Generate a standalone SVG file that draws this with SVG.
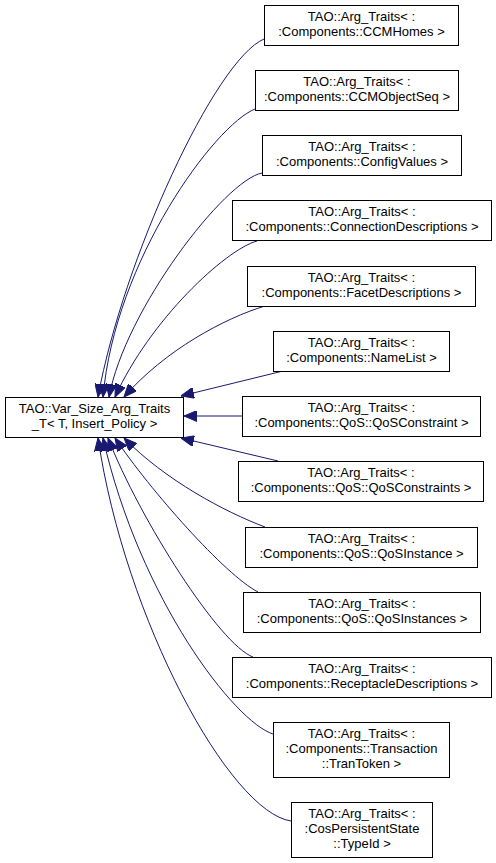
<svg xmlns="http://www.w3.org/2000/svg" width="496" height="863" viewBox="0 0 496 863">
<defs>
<style>
.box{fill:#ffffff;stroke:#000000;stroke-width:1}
.lbl{font-family:"Liberation Sans",Arial,Helvetica,sans-serif;font-size:13px;fill:#000000;text-anchor:middle}
.edge{fill:none;stroke:#191970;stroke-width:1;marker-end:url(#arr)}
</style>
<marker id="arr" markerUnits="userSpaceOnUse" markerWidth="13" markerHeight="11" refX="13" refY="5.5" orient="auto">
<path d="M0,0 L13,5.5 L0,11 z" fill="#191970" stroke="#191970" stroke-width="1"/>
</marker>
</defs>
<rect width="496" height="863" fill="#ffffff"/>
<g id="edges">
<path class="edge" d="M264,39 C215,60 123,260 98,397"/>
<path class="edge" d="M255,109 C215,125 115,260 103,397"/>
<path class="edge" d="M262,173 C225,180 125,310 109,397"/>
<path class="edge" d="M257,241 C225,250 150,320 115,397"/>
<path class="edge" d="M265,306 C225,318 165,350 124,397"/>
<path class="edge" d="M283,371 L181,396"/>
<path class="edge" d="M242,416 L184,416"/>
<path class="edge" d="M278,461 L181,438"/>
<path class="edge" d="M265,527 C225,512 165,480 124,438"/>
<path class="edge" d="M258,592 C225,575 150,490 115,438"/>
<path class="edge" d="M253,657 C220,645 140,520 108,438"/>
<path class="edge" d="M273,734 C235,722 140,600 103,438"/>
<path class="edge" d="M291,821 C230,812 125,620 98,438"/>
</g>
<g id="main">
<rect class="box" x="5.5" y="397.5" width="178" height="40"/>
<text class="lbl" x="94.5" y="413">TAO::Var_Size_Arg_Traits</text>
<text class="lbl" x="94.5" y="428">_T&lt; T, Insert_Policy &gt;</text>
</g>
<g id="n1">
<rect class="box" x="264.5" y="5.5" width="194" height="40"/>
<text class="lbl" x="361.5" y="21">TAO::Arg_Traits&lt; :</text>
<text class="lbl" x="361.5" y="36">:Components::CCMHomes &gt;</text>
</g>
<g id="n2">
<rect class="box" x="255.5" y="70.5" width="203" height="40"/>
<text class="lbl" x="357" y="86">TAO::Arg_Traits&lt; :</text>
<text class="lbl" x="357" y="101">:Components::CCMObjectSeq &gt;</text>
</g>
<g id="n3">
<rect class="box" x="262.5" y="135.5" width="199" height="40"/>
<text class="lbl" x="362" y="151">TAO::Arg_Traits&lt; :</text>
<text class="lbl" x="362" y="166">:Components::ConfigValues &gt;</text>
</g>
<g id="n4">
<rect class="box" x="232.5" y="200.5" width="259" height="40"/>
<text class="lbl" x="362" y="216">TAO::Arg_Traits&lt; :</text>
<text class="lbl" x="362" y="231">:Components::ConnectionDescriptions &gt;</text>
</g>
<g id="n5">
<rect class="box" x="247.5" y="266.5" width="228" height="40"/>
<text class="lbl" x="361.5" y="282">TAO::Arg_Traits&lt; :</text>
<text class="lbl" x="361.5" y="297">:Components::FacetDescriptions &gt;</text>
</g>
<g id="n6">
<rect class="box" x="273.5" y="331.5" width="176" height="40"/>
<text class="lbl" x="361.5" y="347">TAO::Arg_Traits&lt; :</text>
<text class="lbl" x="361.5" y="362">:Components::NameList &gt;</text>
</g>
<g id="n7">
<rect class="box" x="242.5" y="396.5" width="238" height="40"/>
<text class="lbl" x="361.5" y="412">TAO::Arg_Traits&lt; :</text>
<text class="lbl" x="361.5" y="427">:Components::QoS::QoSConstraint &gt;</text>
</g>
<g id="n8">
<rect class="box" x="238.5" y="461.5" width="245" height="40"/>
<text class="lbl" x="361" y="477">TAO::Arg_Traits&lt; :</text>
<text class="lbl" x="361" y="492">:Components::QoS::QoSConstraints &gt;</text>
</g>
<g id="n9">
<rect class="box" x="245.5" y="527.5" width="232" height="40"/>
<text class="lbl" x="361.5" y="543">TAO::Arg_Traits&lt; :</text>
<text class="lbl" x="361.5" y="558">:Components::QoS::QoSInstance &gt;</text>
</g>
<g id="n10">
<rect class="box" x="243.5" y="592.5" width="237" height="40"/>
<text class="lbl" x="362" y="608">TAO::Arg_Traits&lt; :</text>
<text class="lbl" x="362" y="623">:Components::QoS::QoSInstances &gt;</text>
</g>
<g id="n11">
<rect class="box" x="232.5" y="657.5" width="259" height="40"/>
<text class="lbl" x="362" y="673">TAO::Arg_Traits&lt; :</text>
<text class="lbl" x="362" y="688">:Components::ReceptacleDescriptions &gt;</text>
</g>
<g id="n12">
<rect class="box" x="273.5" y="722.5" width="176" height="55"/>
<text class="lbl" x="361.5" y="738">TAO::Arg_Traits&lt; :</text>
<text class="lbl" x="361.5" y="753">:Components::Transaction</text>
<text class="lbl" x="361.5" y="768">::TranToken &gt;</text>
</g>
<g id="n13">
<rect class="box" x="291.5" y="802.5" width="141" height="55"/>
<text class="lbl" x="362" y="818">TAO::Arg_Traits&lt; :</text>
<text class="lbl" x="362" y="833">:CosPersistentState</text>
<text class="lbl" x="362" y="848">::TypeId &gt;</text>
</g>
</svg>
